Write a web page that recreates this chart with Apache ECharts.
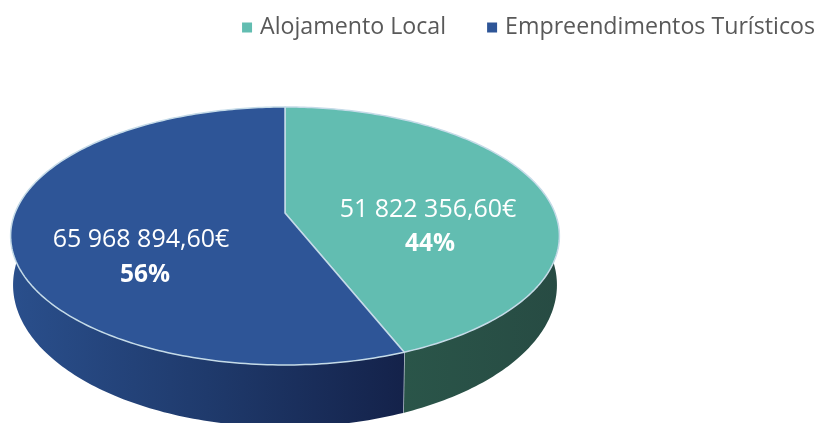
<!DOCTYPE html>
<html>
<head>
<meta charset="utf-8">
<style>
html,body{margin:0;padding:0;background:#fff;}
#chart{width:818px;height:423px;}
</style>
<script src="https://cdn.jsdelivr.net/npm/echarts@6/dist/echarts.min.js"></script>
</head>
<body>
<div id="chart"></div>
<script>
var names = ['Alojamento Local', 'Empreendimentos Turísticos'];
var values = [51822356.60, 65968894.60];
var valueLabels = ['51 822 356,60€', '65 968 894,60€'];
var percentLabels = ['44%', '56%'];
var topColors = ['#62bdb1', '#2e5597'];

var FONT = '"Open Sans", sans-serif';
// perspective of the disc, top face and bottom face
var CX = 285, PERSP = -0.178;
var TOP_FACE = {r: 270, a: 87, b: 213};
var BOTTOM_FACE = {r: 267.6, a: 91.3, b: 259.7};
// where each slice's two text lines sit: value x,y then percent x,y
var labelPos = [[428, 210, 430, 244], [141, 240, 145, 275]];
var sideColors = [
	[{offset: 0, color: '#2a5549'}, {offset: 1, color: '#274b43'}],
	[{offset: 0, color: '#2a4f8c'}, {offset: 0.5, color: '#1f3a6c'}, {offset: 1, color: '#14224a'}]
];

function project(face, t, f){
	var s = Math.sin(t) * f, v = -Math.cos(t) * f;
	var d = 1 + PERSP * v;
	return [CX + face.r * s / d, (face.a * v + face.b) / d];
}
function sliceAngles(idx){
	var total = 0, before = 0;
	for(var i = 0; i < values.length; i++){
		total += values[i];
		if(i < idx) before += values[i];
	}
	return [before / total * Math.PI * 2, (before + values[idx]) / total * Math.PI * 2];
}
function arcPoints(face, t0, t1){
	var pts = [], n = Math.max(2, Math.ceil((t1 - t0) * 60));
	for(var i = 0; i <= n; i++){
		pts.push(project(face, t0 + (t1 - t0) * i / n, 1));
	}
	return pts;
}
function renderSlice(idx){
	return function(params, api){
		var ang = sliceAngles(idx);
		// only the front part of the wall shows
		var w0 = Math.max(ang[0], Math.PI * 0.4), w1 = Math.min(ang[1], Math.PI * 1.6);
		var wall = arcPoints(TOP_FACE, w0, w1).concat(arcPoints(BOTTOM_FACE, w0, w1).reverse());
		var top = [project(TOP_FACE, 0, 0)].concat(arcPoints(TOP_FACE, ang[0], ang[1]));
		var lp = labelPos[idx];
		var kids = [
			{type: 'polygon', shape: {points: wall}, style: {
				fill: new echarts.graphic.LinearGradient(0, 0, 1, 0, sideColors[idx])
			}},
			{type: 'polyline', shape: {points: [project(TOP_FACE, ang[1], 1), project(BOTTOM_FACE, ang[1], 1)]},
				style: {stroke: idx == 0 ? '#b9c4cf' : 'transparent', lineWidth: 1.5, fill: 'none'}},
			{type: 'polygon', shape: {points: top}, style: {
				fill: topColors[idx], stroke: '#c5dbe8', lineWidth: 1.5, lineJoin: 'round'
			}},
			{type: 'text', style: {x: lp[0], y: lp[1], text: valueLabels[idx], fill: '#fff',
				font: '25px ' + FONT, textAlign: 'center', textVerticalAlign: 'middle'}},
			{type: 'text', style: {x: lp[2], y: lp[3], text: percentLabels[idx], fill: '#fff',
				font: 'bold 24.5px ' + FONT, textAlign: 'center', textVerticalAlign: 'middle'}}
		];
		return {type: 'group', children: kids};
	};
}

var chart = echarts.init(document.getElementById('chart'), null, {renderer: 'canvas'});
var series = [];
for(var i = 0; i < names.length; i++){
	series.push({
		name: names[i],
		type: 'custom',
		coordinateSystem: 'none',
		renderItem: renderSlice(i),
		itemStyle: {color: topColors[i]},
		z: i == 0 ? 2 : 3,
		animation: false,
		silent: true,
		data: [values[i]]
	});
}
chart.setOption({
	animation: false,
	backgroundColor: '#fff',
	color: topColors,
	legend: {
		data: names,
		right: 3,
		top: 16,
		padding: 0,
		icon: 'rect',
		itemWidth: 10,
		itemHeight: 10,
		itemGap: 41,
		selectedMode: false,
		textStyle: {color: '#595959', fontFamily: FONT, fontSize: 23.2, padding: [0, 0, 0, 3]}
	},
	series: series
});
</script>
</body>
</html>
